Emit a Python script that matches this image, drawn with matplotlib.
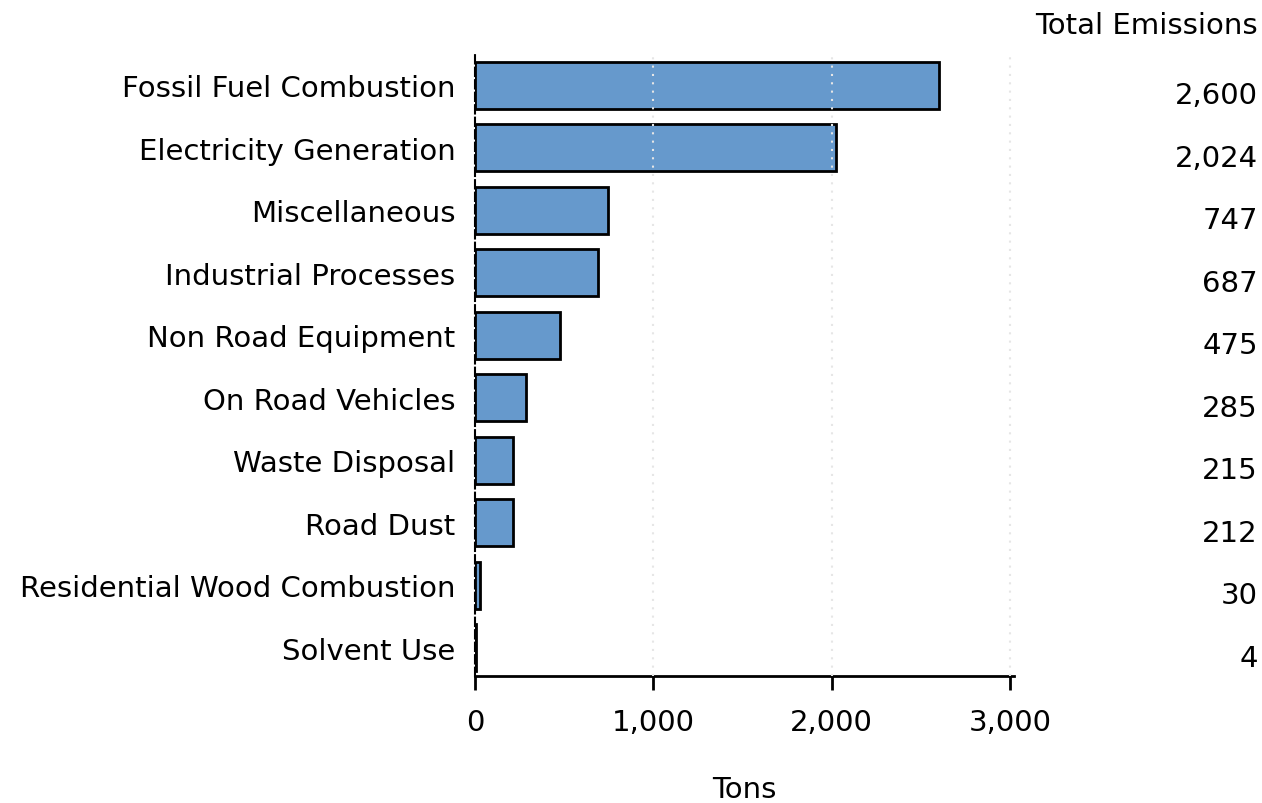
import matplotlib
matplotlib.use('Agg')
import matplotlib.pyplot as plt
import matplotlib.transforms as transforms
from matplotlib.ticker import FuncFormatter

categories = ['Fossil Fuel Combustion', 'Electricity Generation', 'Miscellaneous',
              'Industrial Processes', 'Non Road Equipment', 'On Road Vehicles',
              'Waste Disposal', 'Road Dust', 'Residential Wood Combustion', 'Solvent Use']
tons = [2600, 2024, 747, 687, 475, 285, 215, 212, 30, 4]
xticks = [0, 1000, 2000, 3000]

plt.rcParams['font.family'] = 'DejaVu Sans'
fs = 21

fig = plt.figure(figsize=(12.62, 8.04), dpi=100)
ax = fig.add_axes([475 / 1262, 1 - 677 / 804, (1014 - 475) / 1262, (677 - 55) / 804])

n = len(categories)
ypos = [n - 1 - i for i in range(n)]

ax.barh(ypos, tons, height=0.75, color='#6699CC', edgecolor='black', linewidth=2, zorder=2)

# dotted reference lines, drawn on top of the bars
for xt in xticks[1:]:
    ax.axvline(xt, color='#e6e6e6', linestyle=(0, (1, 3)), linewidth=1.5, zorder=3)

ax.set_xlim(0, 3022)
ax.set_ylim(-0.45, n - 0.5)
ax.set_xticks(xticks)
ax.xaxis.set_major_formatter(FuncFormatter(lambda v, p: '{:,.0f}'.format(v)))
ax.set_yticks(ypos)
ax.set_yticklabels(categories)

for s in ['top', 'right']:
    ax.spines[s].set_visible(False)
ax.spines['left'].set_linestyle((0, (4, 2)))
ax.spines['left'].set_linewidth(1.5)
ax.spines['bottom'].set_linewidth(2)

ax.tick_params(axis='y', length=0, pad=14, labelsize=fs)
ax.tick_params(axis='x', length=10, width=2, pad=13, labelsize=fs)
ax.set_xlabel('Tons', fontsize=fs, labelpad=28)

# right-hand value column
trans = transforms.blended_transform_factory(fig.transFigure, ax.transData)
for y, v in zip(ypos, tons):
    ax.text(1258 / 1262, y - 0.16, '{:,}'.format(v), transform=trans,
            ha='right', va='center', fontsize=fs, clip_on=False)
fig.text(1258 / 1262, 1 - 26 / 804, 'Total Emissions', ha='right', va='center', fontsize=fs)

fig.savefig('out.png', dpi=100)
